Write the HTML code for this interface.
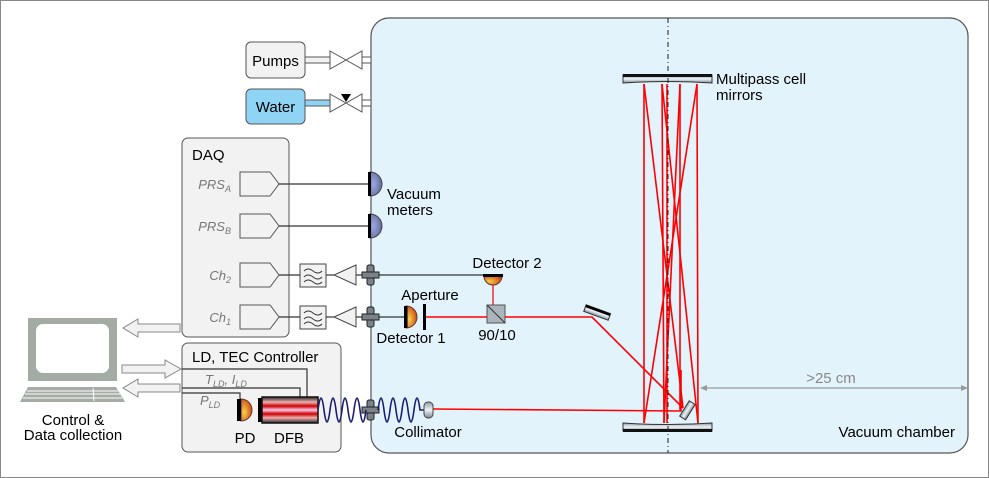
<!DOCTYPE html>
<html><head><meta charset="utf-8"><style>html,body{margin:0;padding:0;background:#fff}svg{display:block}text{font-family:"Liberation Sans",sans-serif}</style></head>
<body>
<svg width="989" height="478" viewBox="0 0 989 478" xmlns="http://www.w3.org/2000/svg">
<defs>
<radialGradient id="og" cx="0.3" cy="0.6" r="0.8"><stop offset="0" stop-color="#f7d24a"/><stop offset="1" stop-color="#c8320c"/></radialGradient>
<radialGradient id="bg" cx="0.3" cy="0.5" r="0.8"><stop offset="0" stop-color="#9aa8e0"/><stop offset="1" stop-color="#5a6090"/></radialGradient>
<linearGradient id="mg" x1="0" y1="0" x2="0" y2="1"><stop offset="0" stop-color="#8a9aa8"/><stop offset="0.5" stop-color="#f0f4f6"/><stop offset="1" stop-color="#7a8894"/></linearGradient>
<linearGradient id="dfb" x1="0" y1="0" x2="0" y2="1"><stop offset="0" stop-color="#2a2a2a"/><stop offset="0.2" stop-color="#f0b0b0"/><stop offset="0.35" stop-color="#c00"/><stop offset="0.5" stop-color="#fce"/><stop offset="0.65" stop-color="#c00"/><stop offset="0.8" stop-color="#f0b0b0"/><stop offset="1" stop-color="#2a2a2a"/></linearGradient>
</defs>
<rect x="0.5" y="0.5" width="988" height="477" fill="#fff" stroke="#888"/>
<rect x="371" y="18" width="597" height="435" rx="18" fill="#e3f3fc" stroke="#555" stroke-width="1.2"/>
<!-- pumps/water -->
<rect x="246" y="42" width="59" height="36" rx="5" fill="#f2f2f2" stroke="#555"/>
<text x="275.5" y="66" font-size="15" text-anchor="middle">Pumps</text>
<rect x="246" y="89" width="59" height="35" rx="5" fill="#8fd3f5" stroke="#555"/>
<text x="275.5" y="112" font-size="15" text-anchor="middle">Water</text>
<g stroke="#555" fill="#fff">
<rect x="305" y="57" width="26" height="6" fill="#f2f2f2"/>
<rect x="305" y="100" width="26" height="6" fill="#8fd3f5"/>
<path d="M330,51 L362,69 L362,51 L330,69 Z"/>
<path d="M330,94 L362,112 L362,94 L330,112 Z"/>
<rect x="362" y="57" width="9" height="6"/><rect x="362" y="100" width="9" height="6"/>
</g>
<path d="M341,94 L351,94 L346,102 Z" fill="#000"/>
<!-- DAQ -->
<rect x="182" y="138" width="107" height="199" rx="6" fill="#f2f2f2" stroke="#555"/>
<text x="192" y="160" font-size="15">DAQ</text>
<g stroke="#555" fill="#f2f2f2">
<path d="M240,172 H270 L279,184 L270,196 H240 Z"/>
<path d="M240,214 H270 L279,226 L270,238 H240 Z"/>
<path d="M240,263 H270 L279,275 L270,287 H240 Z"/>
<path d="M240,305 H270 L279,317 L270,329 H240 Z"/>
</g>
<g font-size="13" fill="#777" font-style="italic" text-anchor="end">
<text x="231" y="189">PRS<tspan font-size="9" dy="3">A</tspan></text>
<text x="231" y="231">PRS<tspan font-size="9" dy="3">B</tspan></text>
<text x="231" y="280">Ch<tspan font-size="9" dy="3">2</tspan></text>
<text x="231" y="322">Ch<tspan font-size="9" dy="3">1</tspan></text>
</g>
<g stroke="#333" stroke-width="1.2">
<line x1="279" y1="184" x2="369" y2="184"/><line x1="279" y1="226" x2="369" y2="226"/>
<line x1="279" y1="275" x2="300" y2="275"/><line x1="279" y1="317" x2="300" y2="317"/>
<line x1="326" y1="275" x2="334" y2="275"/><line x1="326" y1="317" x2="334" y2="317"/>
<line x1="356" y1="275" x2="484" y2="275"/><line x1="356" y1="317" x2="405" y2="317"/>
</g>
<!-- vacuum meters -->
<path d="M370,172 A12,12 0 0 1 370,196 Z" fill="url(#bg)" stroke="#444"/>
<path d="M370,214 A12,12 0 0 1 370,238 Z" fill="url(#bg)" stroke="#444"/>
<rect x="368" y="172" width="3" height="24" fill="#000"/><rect x="368" y="214" width="3" height="24" fill="#000"/>
<text x="387" y="199" font-size="15">Vacuum</text><text x="387" y="215" font-size="15">meters</text>
<!-- filters & amps -->
<g stroke="#444" fill="#f2f2f2">
<rect x="300" y="264" width="26" height="23"/><rect x="300" y="306" width="26" height="23"/>
<path d="M356,265 L334,275 L356,285 Z"/><path d="M356,307 L334,317 L356,327 Z"/>
</g>
<g stroke="#333" fill="none" stroke-width="1">
<path d="M304,271 q4,-4 9,0 t9,0"/><path d="M304,277 q4,-4 9,0 t9,0"/><path d="M304,282 q4,-4 9,0 t9,0"/>
<path d="M304,313 q4,-4 9,0 t9,0"/><path d="M304,319 q4,-4 9,0 t9,0"/><path d="M304,324 q4,-4 9,0 t9,0"/>
</g>
<!-- feedthroughs -->
<g fill="#7a828a" stroke="#222">
<rect x="367" y="265" width="7" height="20" rx="2"/><rect x="362" y="272" width="17" height="6"/>
<rect x="367" y="307" width="7" height="20" rx="2"/><rect x="362" y="314" width="17" height="6"/>
<rect x="367" y="400" width="7" height="20" rx="2"/><rect x="362" y="407" width="17" height="6"/>
</g>
<!-- detector2 -->
<path d="M484,276 A9,9 0 0 0 502,276 Z" fill="url(#og)" stroke="#633"/>
<rect x="483" y="274" width="20" height="3" fill="#000"/>
<text x="507" y="268" font-size="15" text-anchor="middle">Detector 2</text>
<line x1="493" y1="285" x2="493" y2="305" stroke="#e00" stroke-width="1.2"/>
<!-- beam splitter -->
<rect x="487" y="305" width="18" height="18" fill="#aab4bc" stroke="#555"/>
<line x1="487" y1="305" x2="505" y2="323" stroke="#333"/>
<text x="497" y="340" font-size="15" text-anchor="middle">90/10</text>
<!-- detector1 -->
<path d="M406,306 A11,11 0 0 1 406,328 Z" fill="url(#og)" stroke="#633"/>
<rect x="404" y="306" width="3.5" height="22" fill="#000"/>
<rect x="423" y="304" width="3" height="26" fill="#000"/>
<text x="430" y="300" font-size="15" text-anchor="middle">Aperture</text>
<text x="411" y="343" font-size="15" text-anchor="middle">Detector 1</text>
<!-- red beams -->
<g stroke="#f00" stroke-width="1.6" fill="none">
<line x1="426" y1="317" x2="487" y2="317"/>
<line x1="505" y1="317" x2="583" y2="317"/>
<path d="M583,317 L592,317 L683,408"/>
<path d="M433,409 L681,411 L681,370"/>
<line x1="644" y1="84" x2="644" y2="423"/>
<line x1="662" y1="84" x2="664" y2="423"/>
<line x1="680" y1="84" x2="680" y2="410"/>
<line x1="697" y1="84" x2="698" y2="423"/>
<line x1="644" y1="84" x2="683" y2="408"/>
<line x1="662" y1="84" x2="698" y2="423"/>
<line x1="697" y1="84" x2="644" y2="423"/>
<line x1="680" y1="84" x2="664" y2="423"/>
<line x1="667" y1="84" x2="667" y2="423"/>
</g>
<!-- fold mirror -->
<g transform="translate(597,313) rotate(20)"><rect x="-13" y="-4" width="26" height="7" fill="url(#mg)" stroke="#333"/><rect x="-13" y="-4" width="26" height="2.5" fill="#000"/></g>
<g transform="translate(687,410) rotate(-58)"><rect x="-9" y="-3" width="18" height="7" fill="url(#mg)" stroke="#333"/></g>
<!-- multipass mirrors -->
<path d="M623,75 H712 V83 Q668,80 623,83 Z" fill="url(#mg)" stroke="#333"/>
<rect x="623" y="74" width="89" height="3" fill="#111"/>
<path d="M623,431 H712 V423 Q668,426 623,423 Z" fill="url(#mg)" stroke="#333"/>
<rect x="623" y="429" width="89" height="3" fill="#111"/>
<line x1="668" y1="18" x2="668" y2="453" stroke="#222" stroke-dasharray="5,3,1,3"/>
<text x="716" y="84" font-size="15">Multipass cell</text><text x="716" y="100" font-size="15">mirrors</text>
<!-- dimension -->
<line x1="702" y1="388" x2="966" y2="388" stroke="#999" stroke-width="1.2"/>
<path d="M700,388 L707,385 L707,391 Z" fill="#999"/><path d="M968,388 L961,385 L961,391 Z" fill="#999"/>
<text x="831" y="383" font-size="15" fill="#888" text-anchor="middle">&gt;25 cm</text>
<text x="955" y="437" font-size="15" text-anchor="end">Vacuum chamber</text>
<!-- LD box -->
<rect x="182" y="343" width="159" height="109" rx="6" fill="#f2f2f2" stroke="#555"/>
<text x="192" y="362" font-size="15">LD, TEC Controller</text>
<g stroke="#333" fill="none" stroke-width="1.2">
<path d="M182,369 H307 V397"/><path d="M182,388 H300 V397"/><path d="M182,393 H240 V400"/>
</g>
<text x="205" y="384" font-size="13" fill="#777" font-style="italic">T<tspan font-size="9" dy="3">LD</tspan><tspan dy="-3">, I</tspan><tspan font-size="9" dy="3">LD</tspan></text>
<text x="200" y="405" font-size="13" fill="#777" font-style="italic">P<tspan font-size="9" dy="3">LD</tspan></text>
<path d="M241,399 A11,11 0 0 1 241,421 Z" fill="url(#og)" stroke="#633"/>
<rect x="237" y="399" width="4" height="22" fill="#000"/>
<rect x="258" y="398" width="4" height="24" fill="#000"/>
<rect x="262" y="397" width="56" height="26" fill="url(#dfb)" stroke="#111" stroke-width="1.5"/>
<text x="245" y="443" font-size="15" text-anchor="middle">PD</text>
<text x="289" y="443" font-size="15" text-anchor="middle">DFB</text>
<path d="M318,410 q3,-24 6,0 t6,0 t6,0 t6,0 t6,0 t6,0 t6,0 t6,0 M378,410 q3,-24 6,0 t6,0 t6,0 t6,0 t6,0 t6,0 t6,0 h6" stroke="#1a2070" stroke-width="1.6" fill="none"/>
<rect x="424" y="402" width="9" height="16" rx="4" fill="url(#mg)" stroke="#444"/>
<text x="428" y="437" font-size="15" text-anchor="middle">Collimator</text>
<!-- computer -->
<rect x="28" y="318" width="89" height="63" fill="#a4aaa4"/>
<rect x="36" y="324" width="73" height="49" rx="7" fill="#fff"/>
<path d="M28,387 H116 L125,402 H20 Z" fill="#a4aaa4"/>
<g stroke="#fff" stroke-width="1"><line x1="27" y1="391" x2="118" y2="391"/><line x1="25" y1="394" x2="120" y2="394"/><line x1="23" y1="398" x2="122" y2="398"/><line x1="93" y1="388" x2="94" y2="401"/></g>
<text x="73" y="425" font-size="15" text-anchor="middle">Control &amp;</text>
<text x="73" y="440" font-size="15" text-anchor="middle">Data collection</text>
<g fill="#f2f2f2" stroke="#888">
<path d="M180,324 H138 V319 L123,328 L138,337 V332 H180 Z"/>
<path d="M122,365 H165 V360 L181,369 L165,378 V373 H122 Z"/>
<path d="M180,384 H138 V379 L123,388 L138,397 V392 H180 Z"/>
</g>
</svg>
</body></html>
